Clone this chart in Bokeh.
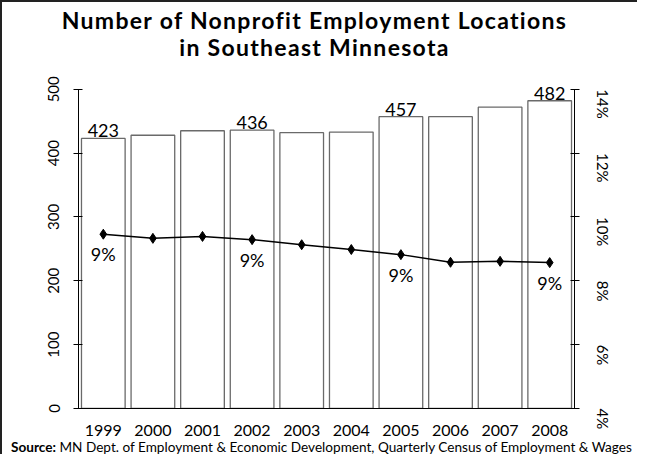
import math
from bokeh.plotting import figure
from bokeh.core.properties import value
from bokeh.layouts import column
from bokeh.models import (ColumnDataSource, Range1d, LinearAxis, FixedTicker,
                          PrintfTickFormatter, LabelSet, FactorRange, Div)
from bokeh.embed import file_html
from bokeh.resources import INLINE

# ---- data ----
years = ["1999", "2000", "2001", "2002", "2003", "2004", "2005", "2006", "2007", "2008"]
locations = [423, 428, 435, 436, 432, 433, 457, 457, 472, 482]
share_pct = [9.46, 9.33, 9.39, 9.29, 9.13, 8.98, 8.82, 8.58, 8.61, 8.57]
labeled_years = ["1999", "2002", "2005", "2008"]
left_ticks = [0, 100, 200, 300, 400, 500]
right_ticks = [4, 6, 8, 10, 12, 14]
title_line1 = "Number of Nonprofit Employment Locations"
title_line2 = "in Southeast Minnesota"
source_bold = "Source:"
source_text = "MN Dept. of Employment & Economic Development, Quarterly Census of Employment & Wages"

FONT = "Lato"
W = 635

src = ColumnDataSource(dict(year=years, count=locations, pct=share_pct))
idx = [years.index(y) for y in labeled_years]
lab_src = ColumnDataSource(dict(
    year=[years[i] for i in idx],
    count=[locations[i] for i in idx],
    count_txt=[str(locations[i]) for i in idx],
    pct=[share_pct[i] for i in idx],
    pct_txt=["%d%%" % round(share_pct[i]) for i in idx],
))

# headroom above the 500 tick so the value labels are not clipped
y_top = 520
pct_lo, pct_hi = 4, 14
pct_top = pct_lo + (pct_hi - pct_lo) * y_top / left_ticks[-1]

title_div = Div(text=title_line1 + "<br>" + title_line2, width=W, height=56, margin=0,
                styles={"font-family": FONT, "font-weight": "bold", "font-size": "23px",
                        "line-height": "27px", "letter-spacing": "1.3px",
                        "text-align": "center", "color": "black",
                        "padding-top": "5px", "box-sizing": "border-box",
                        "width": "%dpx" % W, "padding-right": "10px"})

p = figure(x_range=FactorRange(*years, range_padding=0),
           y_range=Range1d(0, y_top),
           width=W, height=380,
           output_backend="svg", toolbar_location=None,
           min_border_left=76, min_border_right=63,
           min_border_top=18, min_border_bottom=30,
           outline_line_color=None, background_fill_color="white", margin=0)
p.xgrid.grid_line_color = None
p.ygrid.grid_line_color = None

p.extra_y_ranges = {"pct": Range1d(pct_lo, pct_top)}

# left axis
ya = p.yaxis[0]
ya.ticker = FixedTicker(ticks=left_ticks)
ya.bounds = (left_ticks[0], left_ticks[-1])
ya.major_label_orientation = "vertical"
ya.major_tick_in = 4
ya.major_tick_out = 5
ya.minor_tick_line_color = None
ya.axis_line_color = "black"
ya.major_tick_line_color = "black"
ya.major_label_text_font = FONT
ya.major_label_text_font_size = "15px"
ya.major_label_text_color = "black"
ya.major_label_standoff = 14

# right axis
ra = LinearAxis(y_range_name="pct", ticker=FixedTicker(ticks=right_ticks),
                formatter=PrintfTickFormatter(format="%d%%"))
ra.bounds = (pct_lo, pct_hi)
ra.major_label_orientation = -math.pi / 2
ra.major_tick_in = 4
ra.major_tick_out = 5
ra.minor_tick_line_color = None
ra.axis_line_color = "black"
ra.major_tick_line_color = "black"
ra.major_label_text_font = FONT
ra.major_label_text_font_size = "15px"
ra.major_label_text_color = "black"
ra.major_label_standoff = 23
p.add_layout(ra, "right")

# x axis
xa = p.xaxis[0]
xa.major_tick_line_color = None
xa.minor_tick_line_color = None
xa.axis_line_color = "black"
xa.major_label_text_font = FONT
xa.major_label_text_font_size = "16px"
xa.major_label_text_color = "black"
xa.major_label_standoff = 10

# bars
p.vbar(x="year", top="count", width=0.88, source=src,
       fill_color="white", line_color="#6a6a6a", line_width=1.3)

# line
p.line(x="year", y="pct", y_range_name="pct", source=src,
       line_color="black", line_width=1.5)
p.scatter(x="year", y="pct", y_range_name="pct", source=src,
          marker="diamond", size=10, fill_color="black", line_color="black")

p.add_layout(LabelSet(x="year", y="count", text="count_txt", source=lab_src,
                      text_align="center", text_baseline="bottom", y_offset=1,
                      text_font=value(FONT), text_font_size="18px", text_color="black"))
p.add_layout(LabelSet(x="year", y="pct", y_range_name="pct", text="pct_txt", source=lab_src,
                      text_align="center", text_baseline="top", y_offset=-9,
                      text_font=value(FONT), text_font_size="18px", text_color="black"))

source_div = Div(text="<b>%s</b> %s" % (source_bold, source_text.replace("&", "&amp;")),
                 width=W, height=16, margin=0,
                 styles={"font-family": FONT, "font-size": "13.6px", "line-height": "18px",
                         "color": "black", "white-space": "nowrap",
                         "padding-left": "9px", "box-sizing": "border-box",
                         "width": "%dpx" % W})

layout = column(title_div, p, source_div, spacing=0, margin=0,
                styles={"border-left": "2px solid #222", "border-top": "2px solid #222"})

open("out.html", "w").write(file_html(layout, INLINE))
